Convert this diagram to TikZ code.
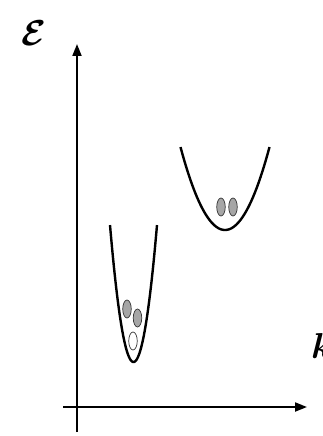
\documentclass[tikz,border=0pt]{standalone}
\usepackage{amsmath}
\usepackage{amsbsy}
\usetikzlibrary{positioning, arrows.meta, shapes.geometric}
\tikzset{
  axis/.style={
    -{Triangle[length=12pt,width=9pt]},
    line width=2pt
  },
  band/.style={
    line width=2.4pt,
    draw=black
  },
  carrier/.style={
    ellipse, draw=black!80, line width=0.7pt,
    fill=#1,
    minimum width=8.5pt, minimum height=18pt,
    inner sep=0pt
  },
  axislabel/.style={
    inner sep=0pt
  }
}
\begin{document}
\begin{tikzpicture}[x=1pt, y=-1pt]
  \useasboundingbox (0,0) rectangle (322,436);
  % axes
  \coordinate (ybot) at (77,432);
  \coordinate (ytop) at (77,44);
  \coordinate (xleft) at (63,407);
  \coordinate (xright) at (307,407);
  \draw[axis] (ybot) -- (ytop);
  \draw[axis] (xleft) -- (xright);
  \node[axislabel] (eps) at (34,33) {\scalebox{3.6}{$\boldsymbol{\mathcal{E}}$}};
  \node[axislabel, anchor=south west] (kk) at (311,359) {\scalebox{3.6}{$\boldsymbol{k}$}};

  % narrow valley
  \draw[band] plot[domain=-23.5:23.5, samples=60, smooth] ({133.5+\x},{362-0.248*\x*\x});
  \node[carrier=black!35] (n1) at (127,309) {};
  \node[carrier=black!35] (n2) at (137.5,318) {};
  \node[carrier=white] (n3) at (133,341) {};

  % wide valley
  \draw[band] plot[domain=-44.5:44.5, samples=60, smooth] ({225+\x},{230-0.0419*\x*\x});
  \node[carrier=black!35] (w1) at (221,207) {};
  \node[carrier=black!35] (w2) at (233,207) {};
\end{tikzpicture}
\end{document}
